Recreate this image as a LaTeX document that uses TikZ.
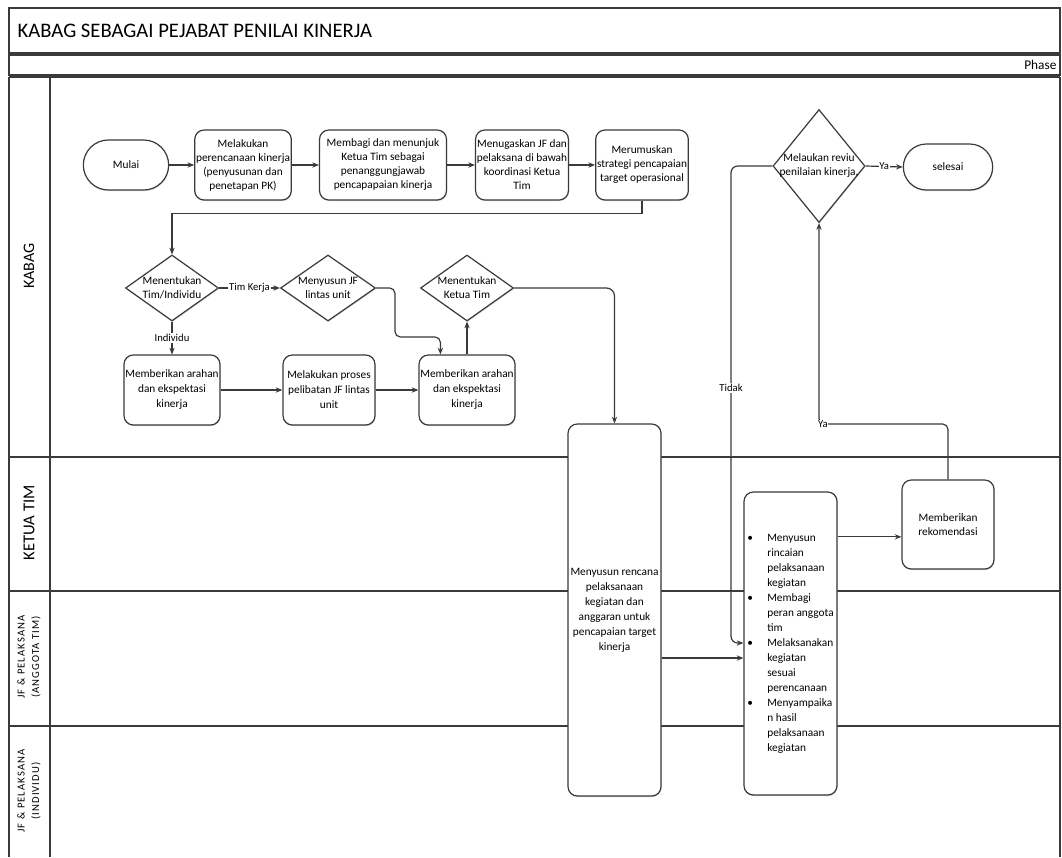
\documentclass[tikz,border=0pt]{standalone}
\usepackage{fontspec}
\setmainfont{Carlito}
\usetikzlibrary{shapes.geometric,shapes.misc,arrows.meta,shadows,calc}
\definecolor{ln}{HTML}{3A3A3A}
\newcommand{\bitem}[1]{\makebox[15pt][l]{\textbullet}#1}
\newcommand{\bcont}{\hspace*{15pt}}
\begin{document}
\begin{tikzpicture}[x=0.75pt,y=-0.75pt,
  every node/.style={font=\fontsize{8.5}{10.5}\selectfont, text=black},
  shp/.style={draw=ln, line width=0.9pt, fill=white, drop shadow={shadow xshift=0.4pt, shadow yshift=-0.9pt, opacity=0.3}},
  proc/.style={shp, rectangle, rounded corners=7pt, align=center, inner sep=1pt},
  term/.style={shp, rounded rectangle, align=center, inner sep=1pt},
  dia/.style={shp, diamond, inner sep=0pt},
  arr/.style={draw=ln, line width=0.9pt, -{Stealth[length=5pt,width=4pt]}},
  lbl/.style={fill=white, inner sep=0.6pt, font=\fontsize{8}{9.5}\selectfont},
  lane/.style={draw=ln, line width=1.1pt},
  lanetxt/.style={rotate=90, align=center},
  dtxt/.style={align=center, font=\fontsize{8.5}{10.5}\selectfont}
]
\useasboundingbox (0,0) rectangle (1062,857);
\fill[white] (0,0) rectangle (1062,857);

% frame and lanes
\draw[lane] (9,8) rectangle (1060,53);
\draw[lane] (9,55) rectangle (1060,75);
\draw[lane] (9,77) -- (1060,77);
\draw[lane] (9,77) -- (9,857);
\draw[lane] (1060,77) -- (1060,857);
\draw[lane] (50,77) -- (50,857);
\draw[lane] (9,457) -- (1060,457);
\draw[lane] (9,591) -- (1060,591);
\draw[lane] (9,726) -- (1060,726);

\node[anchor=west, font=\fontsize{15.5}{18}\selectfont] (title) at (13,31) {KABAG SEBAGAI PEJABAT PENILAI KINERJA};
\node[anchor=east, font=\fontsize{10}{12}\selectfont, inner sep=1pt] (phase) at (1058,65) {Phase};

\node[lanetxt, font=\fontsize{12}{14}\selectfont] (l1) at (29,266) {KABAG};
\node[lanetxt, font=\fontsize{12.5}{14}\selectfont] (l2) at (29,523) {KETUA TIM};
\node[lanetxt, font=\addfontfeatures{LetterSpace=10}\fontsize{8}{11}\selectfont] (l3) at (29,657) {JF \& PELAKSANA\\(ANGGOTA TIM)};
\node[lanetxt, font=\addfontfeatures{LetterSpace=10}\fontsize{8}{11}\selectfont] (l4) at (29,791) {JF \& PELAKSANA\\(INDIVIDU)};

% top row
\node[term, minimum width=66pt, minimum height=37.5pt] (mulai) at (126,165) {Mulai};
\node[proc, minimum width=67.5pt, minimum height=52.5pt] (p1) at (243,165) {Melakukan\\perencanaan kinerja\\(penyusunan dan\\penetapan PK)};
\node[proc, minimum width=95.25pt, minimum height=52.5pt] (p2) at (383,165) {Membagi dan menunjuk\\Ketua Tim sebagai\\penanggungjawab\\pencapapaian kinerja};
\node[proc, minimum width=69pt, minimum height=52.5pt] (p3) at (522,165) {Menugaskan JF dan\\pelaksana di bawah\\koordinasi Ketua\\Tim};
\node[proc, minimum width=68.25pt, minimum height=52.5pt] (p4) at (642,165) {Merumuskan\\strategi pencapaian\\target operasional};

% diamonds row
\node[dia, minimum width=69.75pt, minimum height=49.5pt, label={[dtxt]center:Menentukan\\Tim/Individu}] (d1) at (172,288) {};
\node[dia, minimum width=71.25pt, minimum height=49.5pt, label={[dtxt]center:Menyusun JF\\lintas unit}] (d2) at (328,288) {};
\node[dia, minimum width=69.75pt, minimum height=49.5pt, label={[dtxt]center:Menentukan\\Ketua Tim}] (d3) at (467,288) {};

% lower row
\node[proc, minimum width=69.75pt, minimum height=52.5pt, font=\fontsize{8.5}{11.25}\selectfont] (b1) at (172,390) {Memberikan arahan\\dan ekspektasi\\kinerja};
\node[proc, minimum width=69pt, minimum height=52.5pt, font=\fontsize{8.5}{11.25}\selectfont] (b2) at (329,390) {Melakukan proses\\pelibatan JF lintas\\unit};
\node[proc, minimum width=69.75pt, minimum height=52.5pt, font=\fontsize{8.5}{11.25}\selectfont] (b3) at (467,390) {Memberikan arahan\\dan ekspektasi\\kinerja};

% tall boxes
\node[proc, minimum width=69.75pt, minimum height=279pt, font=\fontsize{8.5}{11.25}\selectfont] (ren) at (614.5,610) {Menyusun rencana\\pelaksanaan\\kegiatan dan\\anggaran untuk\\pencapaian target\\kinerja};
\node[proc, minimum width=69.75pt, minimum height=227.25pt, align=left, font=\fontsize{8.5}{11.25}\selectfont] (bul) at (790.5,643.5) {\bitem{Menyusun}\\\bcont rincaian\\\bcont pelaksanaan\\\bcont kegiatan\\\bitem{Membagi}\\\bcont peran anggota\\\bcont tim\\\bitem{Melaksanakan}\\\bcont kegiatan\\\bcont sesuai\\\bcont perencanaan\\\bitem{Menyampaika}\\\bcont n hasil\\\bcont pelaksanaan\\\bcont kegiatan};
\node[proc, minimum width=69pt, minimum height=66.75pt] (rek) at (948,524.5) {Memberikan\\rekomendasi};

% decision and end
\node[dia, minimum width=69pt, minimum height=84.75pt, label={[dtxt]center:Melaukan reviu\\penilaian kinerja,}] (dec) at (819,166) {};
\node[term, minimum width=69pt, minimum height=34.5pt] (sel) at (948,167) {selesai};

% connectors
\draw[arr] (mulai.east) -- (p1.west);
\draw[arr] (p1.east) -- (p2.west);
\draw[arr] (p2.east) -- (p3.west);
\draw[arr] (p3.east) -- (p4.west);
\draw[arr] (p4.south) -- ++(0,13) -| (d1.north);
\draw[arr] (d1.east) -- node[lbl] (tk) {Tim Kerja} (d2.west);
\draw[arr] (d1.south) -- node[lbl] (ind) {Individu} (b1.north);
\draw[arr, rounded corners=4pt] (d2.east) -| (395,337) -| ([xshift=16.5pt]b3.north west);
\draw[arr] (b1.east) -- (b2.west);
\draw[arr] (b2.east) -- (b3.west);
\draw[arr] (b3.north) -- (d3.south);
\draw[arr, rounded corners=6pt] (d3.east) -| (ren.north);
\draw[arr] ([yshift=-36pt]ren.east) coordinate (r1) -- (r1 -| bul.west);

\coordinate (tdk) at (731,643);
\draw[arr, rounded corners=5pt] (dec.west) -| (tdk) -- (tdk -| bul.west);
\node[lbl] (tidak) at (731,388) {Tidak};

\draw[arr] ([yshift=80pt]bul.east) coordinate (b5) -- (b5 -| rek.west);

\coordinate (ya2) at (819,424);
\draw[arr, rounded corners=4pt] (rek.north) |- (ya2) -- (dec.south);
\node[lbl, anchor=west] (yb) at (817,424) {Ya};

\draw[arr] (dec.east) -- node[lbl] (ya1) {Ya} (sel.west);
\end{tikzpicture}
\end{document}
